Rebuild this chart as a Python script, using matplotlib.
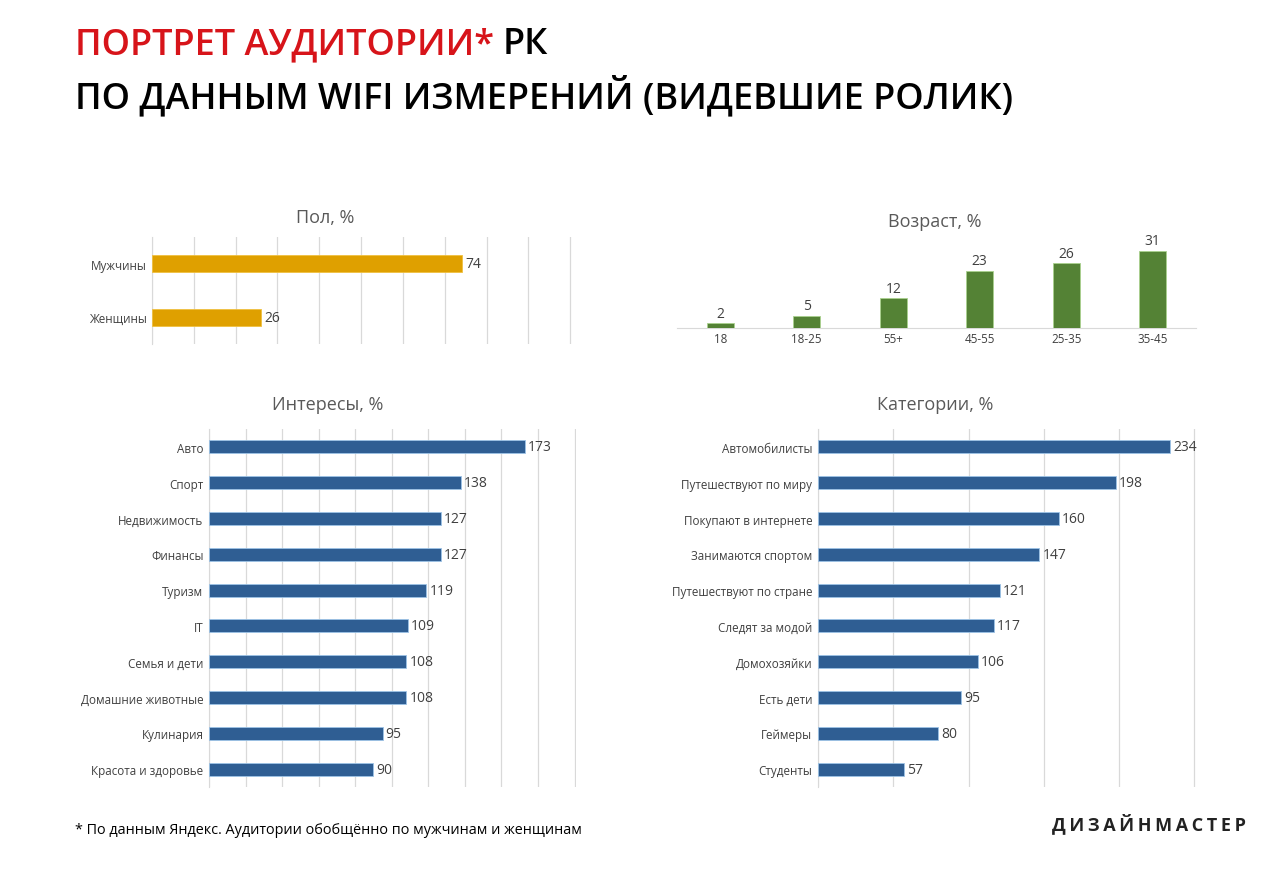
import numpy as np
import matplotlib.pyplot as plt

plt.rcParams['font.family'] = ['Open Sans', 'DejaVu Sans']

# data
gender_labels = ["Мужчины", "Женщины"]
gender_values = [74, 26]

age_labels = ["18", "18-25", "55+", "45-55", "25-35", "35-45"]
age_values = [2, 5, 12, 23, 26, 31]

interest_labels = ["Авто", "Спорт", "Недвижимость", "Финансы", "Туризм", "IT",
                   "Семья и дети", "Домашние животные", "Кулинария", "Красота и здоровье"]
interest_values = [173, 138, 127, 127, 119, 109, 108, 108, 95, 90]

category_labels = ["Автомобилисты", "Путешествуют по миру", "Покупают в интернете",
                   "Занимаются спортом", "Путешествуют по стране", "Следят за модой",
                   "Домохозяйки", "Есть дети", "Геймеры", "Студенты"]
category_values = [234, 198, 160, 147, 121, 117, 106, 95, 80, 57]

W, H = 1280, 878
fig = plt.figure(figsize=(W / 100, H / 100), dpi=100)
fig.patch.set_facecolor("white")

GOLD = "#DFA000"
GREEN = "#548235"
BLUE = "#2F5E93"
GRID = "#D9D9D9"
TXT = "#404040"
TITLE = "#595959"


def px_axes(x0, y0, x1, y1):
    # pixel box (top-left origin) -> figure axes
    return fig.add_axes([x0 / W, 1 - y1 / H, (x1 - x0) / W, (y1 - y0) / H])


def chart_title(text, cx, cy):
    fig.text(cx / W, 1 - cy / H, text, fontsize=13, color=TITLE, ha="center", va="center")


def hbar(ax, labels, values, xmax, step, color, height, edge):
    y = np.arange(len(labels))
    ax.barh(y, values, height=height, color=color, edgecolor=edge, linewidth=0.6, zorder=3)
    ax.set_ylim(len(labels) - 0.5, -0.5)
    ax.set_xlim(0, xmax * 1.004)
    ax.set_yticks(y)
    ax.set_yticklabels(labels, fontsize=8.4, color=TXT)
    ax.set_xticks(np.arange(0, xmax + 1, step))
    ax.xaxis.grid(True, color=GRID, linewidth=0.9, zorder=0)
    ax.tick_params(axis="x", length=0, labelbottom=False)
    ax.tick_params(axis="y", length=0, pad=4)
    for s in ["top", "right", "bottom"]:
        ax.spines[s].set_visible(False)
    ax.spines["left"].set_color(GRID)
    for yi, v in zip(y, values):
        ax.text(v + xmax * 0.008, yi, str(v), va="center", ha="left", fontsize=10, color=TXT)


# gender
ax1 = px_axes(152, 238, 572, 345)
hbar(ax1, gender_labels, gender_values, 100, 10, GOLD, 0.32, "#F0C040")
chart_title("Пол, %", 325, 218)

# age
ax2 = px_axes(677, 242, 1196, 329)
x = np.arange(len(age_labels))
ax2.bar(x, age_values, width=0.31, color=GREEN, edgecolor="#A9D18E", linewidth=0.6, zorder=3)
ax2.set_xlim(-0.5, len(age_labels) - 0.5)
ax2.set_ylim(0, 35)
ax2.set_xticks(x)
ax2.set_xticklabels(age_labels, fontsize=8.4, color=TXT)
ax2.tick_params(axis="x", length=0, pad=3)
ax2.set_yticks([])
for s in ["top", "right", "left"]:
    ax2.spines[s].set_visible(False)
ax2.spines["bottom"].set_color(GRID)
for xi, v in zip(x, age_values):
    ax2.text(xi, v + 1.0, str(v), ha="center", va="bottom", fontsize=10, color=TXT)
chart_title("Возраст, %", 935, 222)

# interests
ax3 = px_axes(209, 430, 576, 788)
hbar(ax3, interest_labels, interest_values, 200, 20, BLUE, 0.36, "#9DC3E6")
chart_title("Интересы, %", 328, 405)

# categories
ax4 = px_axes(818, 430, 1196, 788)
hbar(ax4, category_labels, category_values, 250, 50, BLUE, 0.36, "#9DC3E6")
chart_title("Категории, %", 935, 405)

# header
t1 = fig.text(75 / W, 1 - 45 / H, "ПОРТРЕТ АУДИТОРИИ*", color="#D7141A", fontsize=26,
              fontweight="semibold", va="center", ha="left")
fig.canvas.draw()
bb = t1.get_window_extent()
fig.text((bb.x1 + 9) / W, 1 - 45 / H, "РК", color="black", fontsize=26,
         fontweight="semibold", va="center", ha="left")
fig.text(75 / W, 1 - 97 / H, "ПО ДАННЫМ WIFI ИЗМЕРЕНИЙ (ВИДЕВШИЕ РОЛИК)", color="black",
         fontsize=26, fontweight="semibold", va="center", ha="left")

# footer
fig.text(75 / W, 1 - 830 / H, "* По данным Яндекс. Аудитории обобщённо по мужчинам и женщинам",
         fontsize=10.4, color="black", va="center", ha="left")
fig.text(1246 / W, 1 - 824 / H, "\u2009".join("ДИЗАЙНМАСТЕР"), fontsize=13, fontweight="bold",
         color="#222222", va="center", ha="right")

fig.savefig("out.png", dpi=100, facecolor="white")
